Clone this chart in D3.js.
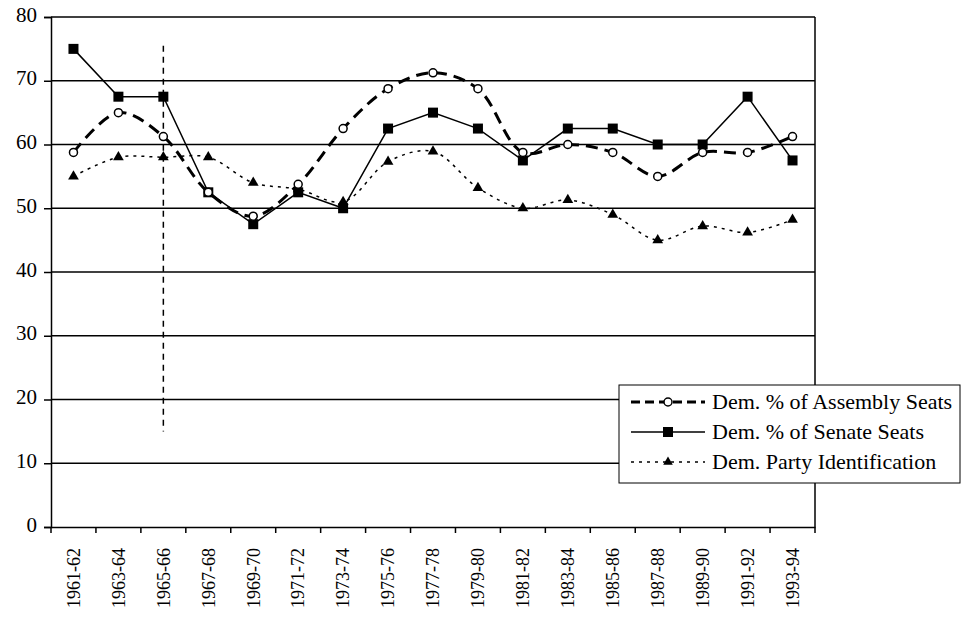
<!DOCTYPE html>
<html>
<head>
<meta charset="utf-8">
<script src="https://cdn.jsdelivr.net/npm/d3@7"></script>
<style>
  body { margin: 0; background: #fff; }
</style>
</head>
<body>
<div class="chart"></div>
<script>
// data
var periods = ["1961-62","1963-64","1965-66","1967-68","1969-70","1971-72","1973-74","1975-76","1977-78",
  "1979-80","1981-82","1983-84","1985-86","1987-88","1989-90","1991-92","1993-94"];
var assembly = [58.75, 65, 61.25, 52.5, 48.75, 53.75, 62.5, 68.75, 71.25, 68.75, 58.75, 60, 58.75, 55, 58.75, 58.75, 61.25];
var senate = [75, 67.5, 67.5, 52.5, 47.5, 52.5, 50, 62.5, 65, 62.5, 57.5, 62.5, 62.5, 60, 60, 67.5, 57.5];
var partyId = [55, 58, 58, 58, 54, 53, 51, 57.3, 58.9, 53.2, 50, 51.3, 49, 45, 47.2, 46.2, 48.2];
var yTicks = [0, 10, 20, 30, 40, 50, 60, 70, 80];
var legendNames = ["Dem. % of Assembly Seats", "Dem. % of Senate Seats", "Dem. Party Identification"];

var W = 961, H = 620;
var Margin = {left: 51, top: 17, right: 146, bottom: 93};
var Width = W - Margin.left - Margin.right,
    Height = H - Margin.top - Margin.bottom;
var serif = "'Liberation Serif'";

var svg = d3.select(".chart").append("svg")
    .attr("width", W)
    .attr("height", H);
var g = svg.append("g")
    .attr("transform", "translate(" + Margin.left + "," + Margin.top + ")");

var x = d3.scaleBand().domain(periods).range([0, Width]);
var y = d3.scaleLinear().domain([0, 80]).range([Height, 0]);
var cx = function(i) { return x(periods[i]) + x.bandwidth() / 2; };

// gridlines
g.selectAll(".grid").data(yTicks.filter(d => d > 0)).enter().append("line")
  .attr("x1", 0).attr("x2", Width)
  .attr("y1", d => y(d)).attr("y2", d => y(d))
  .attr("stroke", "#000").attr("stroke-width", 1.5);

// right border
g.append("line").attr("x1", Width).attr("x2", Width).attr("y1", 0).attr("y2", Height)
  .attr("stroke", "#000").attr("stroke-width", 1.5);

// y axis
var yAxis = g.append("g").call(d3.axisLeft(y).tickValues(yTicks).tickSize(7).tickPadding(7));
yAxis.select(".domain").attr("stroke-width", 1.5);
yAxis.selectAll("line").attr("stroke-width", 1.5);
yAxis.selectAll("text").style("font-size", "21px").style("font-family", serif)
  .attr("fill", "#000").attr("dy", "0.2em");

// x axis with ticks on category boundaries
var xAxis = g.append("g").attr("transform", "translate(0," + Height + ")")
  .call(d3.axisBottom(x).tickSize(0).tickPadding(0));
xAxis.select(".domain").attr("stroke-width", 1.5);
xAxis.selectAll("text")
  .style("font-size", "18px").style("font-family", serif)
  .attr("fill", "#000")
  .attr("text-anchor", "end")
  .attr("transform", "rotate(-90)")
  .attr("x", -21).attr("y", 0).attr("dy", "0.35em");
g.selectAll(".xtick").data(d3.range(periods.length + 1)).enter().append("line")
  .attr("x1", i => i * x.step()).attr("x2", i => i * x.step())
  .attr("y1", Height).attr("y2", Height + 6)
  .attr("stroke", "#000").attr("stroke-width", 1.5);

// vertical dashed marker at 1965-66
g.append("line")
  .attr("x1", cx(2)).attr("x2", cx(2))
  .attr("y1", y(75.5)).attr("y2", y(15))
  .attr("stroke", "#000").attr("stroke-width", 1.5)
  .attr("stroke-dasharray", "6,5");

// lines
var smooth = d3.line().curve(d3.curveCatmullRom.alpha(0.5))
  .x((d, i) => cx(i)).y(d => y(d));
var straight = d3.line().x((d, i) => cx(i)).y(d => y(d));

g.append("path").attr("d", smooth(partyId))
  .attr("fill", "none").attr("stroke", "#000").attr("stroke-width", 1.5)
  .attr("stroke-dasharray", "3,5");
g.append("path").attr("d", straight(senate))
  .attr("fill", "none").attr("stroke", "#000").attr("stroke-width", 1.5);
g.append("path").attr("d", smooth(assembly))
  .attr("fill", "none").attr("stroke", "#000").attr("stroke-width", 3)
  .attr("stroke-dasharray", "12,7");

// markers
var tri = d3.symbol().type(d3.symbolTriangle).size(50);
g.selectAll(".tri").data(partyId).enter().append("path")
  .attr("d", tri)
  .attr("transform", (d, i) => "translate(" + cx(i) + "," + y(d) + ")")
  .attr("fill", "#000");
g.selectAll(".sq").data(senate).enter().append("rect")
  .attr("x", (d, i) => cx(i) - 5).attr("y", d => y(d) - 5)
  .attr("width", 10).attr("height", 10).attr("fill", "#000");
g.selectAll(".circ").data(assembly).enter().append("circle")
  .attr("cx", (d, i) => cx(i)).attr("cy", d => y(d)).attr("r", 4)
  .attr("fill", "#fff").attr("stroke", "#000").attr("stroke-width", 1.5);

// legend
var lg = svg.append("g").attr("transform", "translate(619,385)");
lg.append("rect").attr("width", 341).attr("height", 98)
  .attr("fill", "#fff").attr("stroke", "#000").attr("stroke-width", 1);
var rowY = [17, 47, 77];
var styles = [
  {w: 3, dash: "9,5"},
  {w: 1.5, dash: null},
  {w: 1.5, dash: "3,5"}
];
legendNames.forEach(function(name, k) {
  var row = lg.append("g").attr("transform", "translate(0," + rowY[k] + ")");
  row.append("line").attr("x1", 12).attr("x2", 86).attr("y1", 0).attr("y2", 0)
    .attr("stroke", "#000").attr("stroke-width", styles[k].w)
    .attr("stroke-dasharray", styles[k].dash);
  if (k === 0) {
    row.append("circle").attr("cx", 49).attr("cy", 0).attr("r", 4)
      .attr("fill", "#fff").attr("stroke", "#000").attr("stroke-width", 1.5);
  } else if (k === 1) {
    row.append("rect").attr("x", 44).attr("y", -5).attr("width", 10).attr("height", 10).attr("fill", "#000");
  } else {
    row.append("path").attr("d", d3.symbol().type(d3.symbolTriangle).size(40)).attr("transform", "translate(49,0)");
  }
  row.append("text").attr("x", 93).attr("y", 0).attr("dy", "0.33em")
    .style("font-size", "22px").style("font-family", serif)
    .attr("fill", "#000").text(name);
});
</script>
</body>
</html>
